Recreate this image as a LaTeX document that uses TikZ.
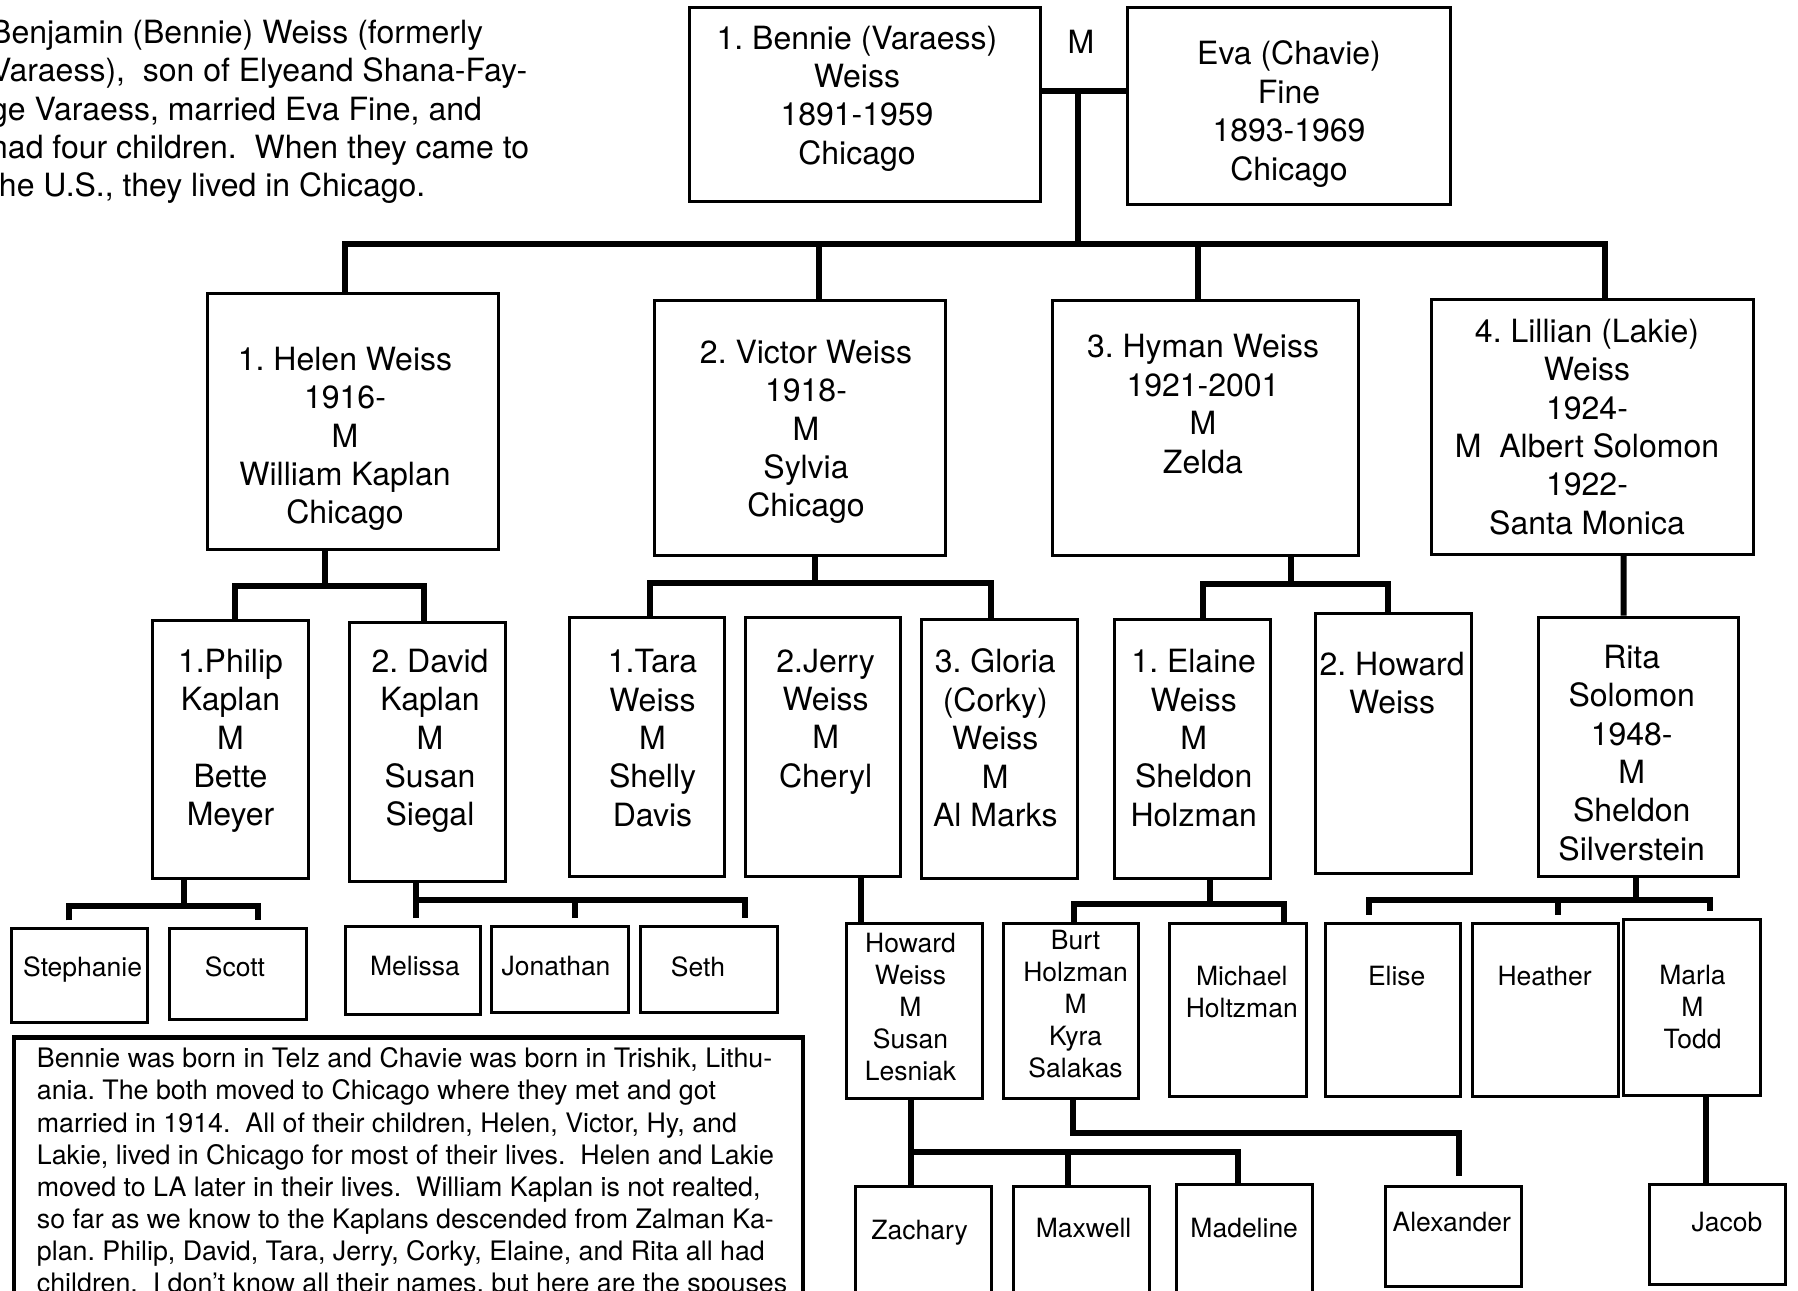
\documentclass[tikz,border=0pt]{standalone}
\usepackage{fontspec}
\setmainfont{TeX Gyre Heros}
\usetikzlibrary{positioning}
\frenchspacing

\begin{document}
\begin{tikzpicture}[x=1pt, y=-1pt,
    box/.style={draw, line width=3pt, inner sep=0pt},
    who/.style={align=center, inner sep=0pt, font=\fontsize{32}{38.4}\selectfont},
    kid/.style={align=center, inner sep=0pt, font=\fontsize{26.5}{32}\selectfont},
    note/.style={align=left, inner sep=0pt, anchor=north west},
    link/.style={line width=6pt},
    gap/.style={shorten <=7pt, shorten >=7pt}]
  \useasboundingbox (0,0) rectangle (1798,1290);
  \clip (0,0) rectangle (1798,1290);
  \fill[white] (0,0) rectangle (1798,1290);

      % notes %
      \node[note, font=\fontsize{32}{38.4}\selectfont] (intro) at (-10,19.6) {Benjamin (Bennie) Weiss (formerly\\
        Varaess),~ son of Elyeand Shana-Fay-\\
        ge Varaess, married Eva Fine, and\\
        had four children.~ When they came to\\
        the U.S., they lived in Chicago.};
      \node[box, line width=4.5pt, anchor=north west, minimum width=789, minimum height=300] (notebox) at (11.5,1035.4) {};
      \node[note, font=\fontsize{26.8}{32.1}\selectfont] (notetext) at (36.7,1047.6) {Bennie was born in Telz and Chavie was born in Trishik, Lithu-\\
        ania. The both moved to Chicago where they met and got\\
        married in 1914.~ All of their children, Helen, Victor, Hy, and\\
        Lakie, lived in Chicago for most of their lives.~ Helen and Lakie\\
        moved to LA later in their lives.~ William Kaplan is not realted,\\
        so far as we know to the Kaplans descended from Zalman Ka-\\
        plan. Philip, David, Tara, Jerry, Corky, Elaine, and Rita all had\\
        children.~ I don’t know all their names, but here are the spouses};

      % parents %
      \node[box, minimum width=351, minimum height=194] (bennie) at (864.6,104.9) {};
      \node[who] (bennie-t) at (857,98.5) {1. Bennie (Varaess)\\Weiss\\1891-1959\\Chicago};
      \node[box, minimum width=323, minimum height=196] (eva) at (1288.9,106) {};
      \node[who] (eva-t) at (1289,114) {Eva (Chavie)\\Fine\\1893-1969\\Chicago};
      \node[who] (wedm) at (1081,42) {M};

      % children %
      \node[box, minimum width=291, minimum height=256] (helen) at (353.2,421.4) {};
      \node[who] (helen-t) at (345,439) {1. Helen Weiss\\1916-\\M\\William Kaplan\\Chicago};
      \node[box, minimum width=291, minimum height=255] (victor) at (800.4,427.7) {};
      \node[who] (victor-t) at (806,432) {2. Victor Weiss\\1918-\\M\\Sylvia\\Chicago};
      \node[box, minimum width=306, minimum height=255] (hyman) at (1205.7,427.7) {};
      \node[who] (hyman-t) at (1203,404) {3. Hyman Weiss\\1921-2001\\M\\Zelda};
      \node[box, minimum width=322, minimum height=255] (lillian) at (1592.2,426.5) {};
      \node[who] (lillian-t) at (1587,427) {4. Lillian (Lakie)\\Weiss\\1924-\\M~ Albert Solomon\\1922-\\Santa Monica};

      % grandchildren %
      \node[box, minimum width=156, minimum height=258] (philip) at (230.5,749.4) {};
      \node[who] (philip-t) at (230.5,741) {1.Philip\\Kaplan\\M\\Bette\\Meyer};
      \node[box, minimum width=156, minimum height=259] (david) at (427.7,752.2) {};
      \node[who] (david-t) at (430,741) {2. David\\Kaplan\\M\\Susan\\Siegal};
      \node[box, minimum width=155, minimum height=259] (tara) at (647.3,746.5) {};
      \node[who] (tara-t) at (652.5,738) {1.Tara\\Weiss\\M\\Shelly\\Davis};
      \node[box, minimum width=155, minimum height=259] (jerry) at (822.7,746.5) {};
      \node[who] (jerry-t) at (825.6,721.5) {2.Jerry\\Weiss\\M\\Cheryl};
      \node[box, minimum width=156, minimum height=259] (gloria) at (999.9,748.8) {};
      \node[who] (gloria-t) at (995.3,738) {3. Gloria\\(Corky)\\Weiss\\M\\Al Marks};
      \node[box, minimum width=156, minimum height=259] (elaine) at (1192.5,748.8) {};
      \node[who] (elaine-t) at (1193.7,738) {1. Elaine\\Weiss\\M\\Sheldon\\Holzman};
      \node[box, minimum width=156, minimum height=260] (howard) at (1393.2,743.6) {};
      \node[who] (howard-t) at (1392.1,683) {2. Howard\\Weiss};
      \node[box, minimum width=200, minimum height=259] (rita) at (1638.6,746.5) {};
      \node[who] (rita-t) at (1631.7,753) {Rita\\Solomon\\1948-\\M\\Sheldon\\Silverstein};

      % great-grandchildren %
      \node[box, minimum width=136, minimum height=94] (stephanie) at (79.7,975.8) {};
      \node[kid] (stephanie-t) at (82.6,969) {Stephanie};
      \node[box, minimum width=137, minimum height=91] (scott) at (238,974.1) {};
      \node[kid] (scott-t) at (235,967) {Scott};
      \node[box, minimum width=135, minimum height=88] (melissa) at (412.8,970.7) {};
      \node[kid] (melissa-t) at (415,966.5) {Melissa};
      \node[box, minimum width=137, minimum height=86] (jonathan) at (560.2,969.5) {};
      \node[kid] (jonathan-t) at (556,966.5) {Jonathan};
      \node[box, minimum width=137, minimum height=86] (seth) at (709.2,969.5) {};
      \node[kid] (seth-t) at (698,966.5) {Seth};
      \node[box, minimum width=136, minimum height=175] (howardw) at (914.5,1010.8) {};
      \node[kid] (howardw-t) at (910.5,1007) {Howard\\Weiss\\M\\Susan\\Lesniak};
      \node[box, minimum width=135, minimum height=175] (burt) at (1071,1010.8) {};
      \node[kid] (burt-t) at (1075.6,1004.5) {Burt\\Holzman\\M\\Kyra\\Salakas};
      \node[box, minimum width=137, minimum height=173] (michael) at (1237.9,1009.7) {};
      \node[kid] (michael-t) at (1241.8,992) {Michael\\Holtzman};
      \node[box, minimum width=135, minimum height=173] (elise) at (1393.3,1009.7) {};
      \node[kid] (elise-t) at (1396.7,976) {Elise};
      \node[box, minimum width=146, minimum height=173] (heather) at (1545.2,1009.7) {};
      \node[kid] (heather-t) at (1544.6,976) {Heather};
      \node[box, minimum width=137, minimum height=176] (marla) at (1692,1007.4) {};
      \node[kid] (marla-t) at (1692.5,1006.6) {Marla\\M\\Todd};

      % next generation %
      \node[box, minimum width=136, minimum height=130] (zachary) at (923.7,1251.8) {};
      \node[kid] (zachary-t) at (919.6,1232.5) {Zachary};
      \node[box, minimum width=136, minimum height=130] (maxwell) at (1081.9,1251.8) {};
      \node[kid] (maxwell-t) at (1083.6,1228) {Maxwell};
      \node[box, minimum width=136, minimum height=130] (madeline) at (1244.7,1249.5) {};
      \node[kid] (madeline-t) at (1244.2,1228) {Madeline};
      \node[box, minimum width=136, minimum height=100] (alexander) at (1453.4,1236.7) {};
      \node[kid] (alexander-t) at (1451.7,1222) {Alexander};
      \node[box, minimum width=136, minimum height=100] (jacob) at (1717.2,1234.4) {};
      \node[kid] (jacob-t) at (1726.9,1222) {Jacob};

      % edges %
      \coordinate (wed) at (1078,90.6);
      \coordinate (kids) at (1078,244);
      \draw[link] (bennie.east |- wed) -- (eva.west |- wed);
      \draw[link] (wed) -- (kids);
      \draw[link] ([xshift=-8]helen.north) |- (kids) -| ([xshift=13.2]lillian.north);
      \draw[link] ([xshift=18.3]victor.north) |- (kids);
      \draw[link] ([xshift=-7.4]hyman.north) |- (kids);

      \coordinate (helenbar) at (324.5,586);
      \draw[link] (helen.south -| helenbar) -- (helenbar);
      \draw[link] ([xshift=4.5]philip.north) |- (helenbar) -| ([xshift=-3.4]david.north);

      \coordinate (victorbar) at (815.3,582.5);
      \draw[link] (victor.south -| victorbar) -- (victorbar);
      \draw[link] ([xshift=2.9]tara.north) |- (victorbar) -| ([xshift=-9.2]gloria.north);

      \coordinate (hymanbar) at (1291.2,583.7);
      \draw[link] (hyman.south -| hymanbar) -- (hymanbar);
      \draw[link] ([xshift=10.4]elaine.north) |- (hymanbar) -| ([xshift=-5.7]howard.north);

      \draw[link] ([xshift=31.5]lillian.south) -- ([xshift=-14.9]rita.north);

      \coordinate (philipbar) at (183.5,905.9);
      \draw[link] (philip.south -| philipbar) -- (philipbar);
      \draw[link, gap] ([xshift=-10.9]stephanie.north) |- (philipbar) -| ([xshift=20]scott.north);

      \coordinate (davidbar) at (416.2,900.1);
      \draw[link] (david.south -| davidbar) -- (davidbar);
      \draw[link, gap] ([xshift=3.4]melissa.north) |- (davidbar) -| ([xshift=36.1]seth.north);
      \draw[link, gap] ([xshift=14.3]jonathan.north) |- (davidbar);

      \draw[link] ([xshift=38.5]jerry.south) -- ([xshift=-53.3]howardw.north);

      \coordinate (elainebar) at (1209.7,903.6);
      \draw[link] (elaine.south -| elainebar) -- (elainebar);
      \draw[link] ([xshift=3.4]burt.north) |- (elainebar) -| ([xshift=46.4]michael.north);

      \coordinate (ritabar) at (1636.3,900.1);
      \draw[link] (rita.south -| ritabar) -- (ritabar);
      \draw[link, gap] ([xshift=-24.2]elise.north) |- (ritabar) -| ([xshift=17.7]marla.north);
      \draw[link, gap] ([xshift=13.1]heather.north) |- (ritabar);

      \coordinate (howardbar) at (910.5,1152.4);
      \draw[link] (howardw.south -| howardbar) -- (howardbar);
      \draw[link] ([xshift=-13.2]zachary.north) |- (howardbar) -| ([xshift=-6.3]madeline.north);
      \draw[link] ([xshift=-14.3]maxwell.north) |- (howardbar);

      \coordinate (burtbar) at (1073.3,1132.9);
      \draw[link, shorten >=9pt] (burt.south -| burtbar) -- (burtbar) -| ([xshift=5.2]alexander.north);

      \draw[link] ([xshift=14.3]marla.south) -- ([xshift=-10.9]jacob.north);
\end{tikzpicture}
\end{document}
